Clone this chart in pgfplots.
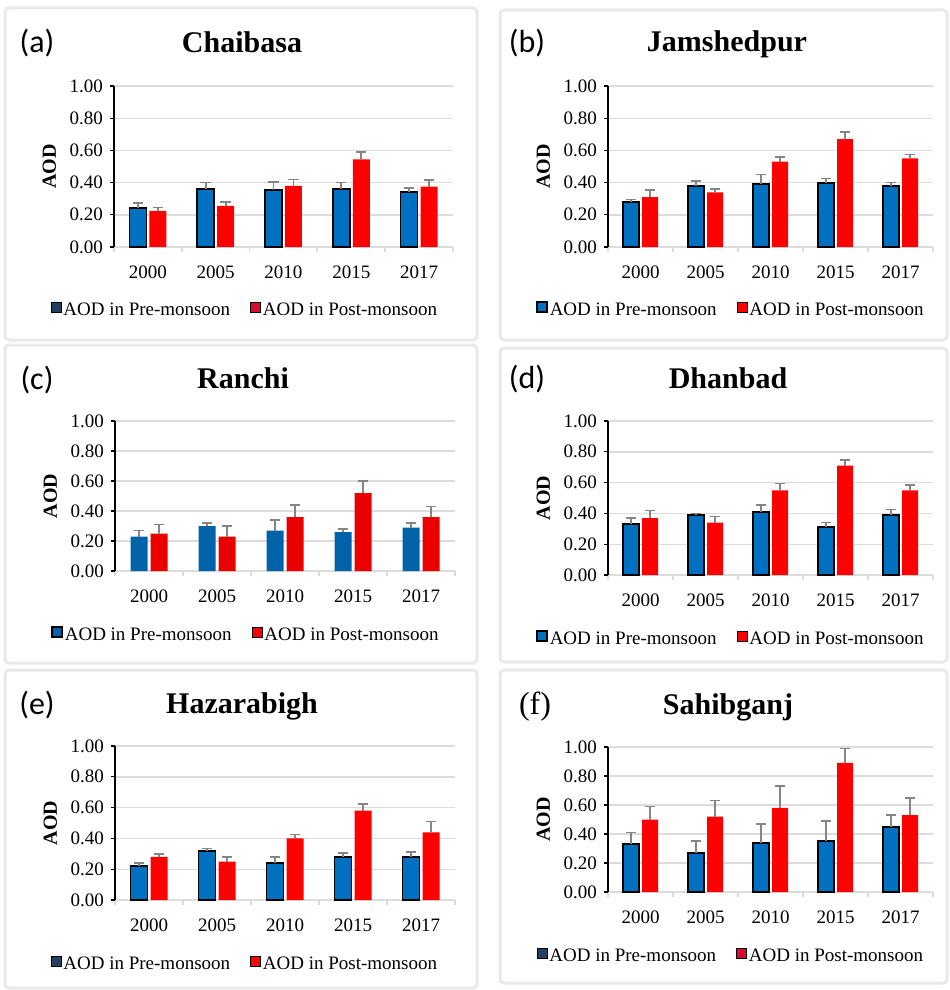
\documentclass[border=0pt]{standalone}
\usepackage{fontspec}
\setmainfont{Liberation Serif}
\newfontfamily\panelfont{Carlito}
\usepackage{pgfplots}
\usepackage{pgfplotstable}
\pgfplotsset{compat=1.18}

\definecolor{preblue}{HTML}{0070C0}
\definecolor{postred}{HTML}{FF0000}
\definecolor{errgray}{HTML}{858585}
\definecolor{gridgray}{HTML}{DCDCDC}
\definecolor{framegray}{HTML}{E9E9E9}
\definecolor{navy}{HTML}{243F60}
\definecolor{crimson}{HTML}{D2102E}

% columns: year index, pre-monsoon AOD, its error, post-monsoon AOD, its error
\pgfplotstableread{
x pre preerr post posterr
0 0.24 0.035 0.225 0.02
1 0.36 0.040 0.255 0.025
2 0.355 0.050 0.38 0.04
3 0.36 0.040 0.545 0.045
4 0.34 0.025 0.375 0.04
}\chaibasa
\pgfplotstableread{
x pre preerr post posterr
0 0.28 0.015 0.31 0.045
1 0.38 0.030 0.34 0.02
2 0.39 0.060 0.53 0.03
3 0.40 0.025 0.67 0.045
4 0.38 0.020 0.55 0.025
}\jamshedpur
\pgfplotstableread{
x pre preerr post posterr
0 0.23 0.040 0.25 0.06
1 0.30 0.020 0.23 0.07
2 0.27 0.070 0.36 0.08
3 0.26 0.020 0.52 0.08
4 0.29 0.030 0.36 0.07
}\ranchi
\pgfplotstableread{
x pre preerr post posterr
0 0.33 0.040 0.37 0.05
1 0.39 0.010 0.34 0.04
2 0.41 0.045 0.55 0.045
3 0.31 0.030 0.71 0.035
4 0.39 0.035 0.55 0.035
}\dhanbad
\pgfplotstableread{
x pre preerr post posterr
0 0.22 0.020 0.28 0.02
1 0.32 0.015 0.25 0.03
2 0.24 0.040 0.40 0.025
3 0.28 0.025 0.58 0.045
4 0.28 0.030 0.44 0.07
}\hazarabigh
\pgfplotstableread{
x pre preerr post posterr
0 0.33 0.08 0.50 0.09
1 0.27 0.08 0.52 0.11
2 0.34 0.13 0.58 0.15
3 0.35 0.14 0.89 0.10
4 0.45 0.08 0.53 0.12
}\sahibganj

\pgfplotsset{
  aodpanel/.style={
    scale only axis,
    anchor=south west,
    ybar, bar width=8.5pt,
    xmin=-0.5, xmax=4.5, ymin=0, ymax=1,
    xtick={0,1,2,3,4},
    xticklabels={2000,2005,2010,2015,2017},
    minor xtick={-0.5,0.5,1.5,2.5,3.5,4.5},
    ytick={0,0.2,0.4,0.6,0.8,1},
    axis x line*=bottom, axis y line*=left,
    x axis line style={gridgray, line width=0.9pt},
    y axis line style={black, line width=0.6pt},
    tick align=outside,
    major x tick style={draw=none},
    minor x tick style={gridgray, line width=0.9pt},
    minor tick length=2.5pt,
    major y tick style={black, line width=0.6pt},
    major tick length=2pt,
    ymajorgrids,
    major grid style={gridgray, line width=0.7pt},
    tick label style={font=\fontsize{9.5}{11}\selectfont},
    yticklabel style={/pgf/number format/fixed,
      /pgf/number format/fixed zerofill,
      /pgf/number format/precision=2,
      /pgf/number format/assume math mode=true},
    xticklabel style={yshift=-4pt},
    ylabel={AOD},
    ylabel style={font=\fontsize{10}{12}\selectfont\bfseries},
    legend columns=2,
    legend style={draw=none, fill=none, font=\fontsize{9.5}{11}\selectfont,
      anchor=center, inner sep=0pt,
      nodes={inner sep=1pt},
      /tikz/every even column/.append style={column sep=9pt}},
  },
  sqlegend/.style={legend image code/.code={\draw[##1] (0pt,-0.6pt) rectangle (5pt,4.4pt);}},
  upbars/.style={
    error bars/y dir=plus, error bars/y explicit,
    error bars/error bar style={errgray, line width=0.8pt},
    error bars/error mark options={errgray, rotate=90, mark size=2.6pt, line width=0.8pt}},
  prebar/.style={upbars, fill=preblue, draw=black, line width=0.9pt, bar shift=-5pt},
  postbar/.style={upbars, fill=postred, draw=none, bar shift=5pt},
}

\begin{document}
\begin{tikzpicture}
\useasboundingbox (0pt,0pt) rectangle (474.5pt,-495pt);
\fill[white] (0pt,0pt) rectangle (474.5pt,-495pt);

% panel frames, titles and letters (1 unit = half a point)
\begin{scope}[x=0.5pt, y=-0.5pt]
  \foreach \a/\b/\c/\d in {5/8/477/340, 500/10/947/340, 5/345/477/663,
                           500/348/947/662, 5/670/477/988, 500/670/947/983}
    \draw[framegray, line width=1.5pt, rounded corners=2pt] (\a,\b) rectangle (\c,\d);

  \node[font=\panelfont\fontsize{16}{18}\selectfont] at (37,43) {(a)};
  \node[font=\panelfont\fontsize{16}{18}\selectfont] at (527,43) {(b)};
  \node[font=\panelfont\fontsize{16}{18}\selectfont] at (37,380) {(c)};
  \node[font=\panelfont\fontsize{16}{18}\selectfont] at (527,379) {(d)};
  \node[font=\panelfont\fontsize{16}{18}\selectfont] at (37,705) {(e)};
  \node[font=\fontsize{16}{18}\selectfont] at (535,707) {(f)};

  \node[anchor=base, font=\fontsize{15}{18}\selectfont\bfseries] at (242,53) {Chaibasa};
  \node[anchor=base, font=\fontsize{15}{18}\selectfont\bfseries] at (727,52) {Jamshedpur};
  \node[anchor=base, font=\fontsize{15}{18}\selectfont\bfseries] at (243,388) {Ranchi};
  \node[anchor=base, font=\fontsize{15}{18}\selectfont\bfseries] at (728,388) {Dhanbad};
  \node[anchor=base, font=\fontsize{15}{18}\selectfont\bfseries] at (242,713) {Hazarabigh};
  \node[anchor=base, font=\fontsize{15}{18}\selectfont\bfseries] at (728,714) {Sahibganj};
\end{scope}

% (a) Chaibasa
\begin{axis}[aodpanel, at={(57pt,-123.5pt)}, width=169.5pt, height=80.5pt,
  legend style={at={(0.386,-0.398)}}]
  \addplot[prebar, forget plot] table[x=x, y=pre, y error=preerr] {\chaibasa};
  \addplot[postbar, forget plot] table[x=x, y=post, y error=posterr] {\chaibasa};
  \addlegendimage{sqlegend, fill=navy, draw=none}
  \addlegendentry{AOD in Pre-monsoon}
  \addlegendimage{sqlegend, fill=crimson, draw=none}
  \addlegendentry{AOD in Post-monsoon}
\end{axis}

% (b) Jamshedpur
\begin{axis}[aodpanel, at={(304pt,-123.5pt)}, width=162.5pt, height=80.5pt,
  bar width=8pt, legend style={at={(0.378,-0.398)}}]
  \addplot[prebar, bar shift=-4.75pt, forget plot] table[x=x, y=pre, y error=preerr] {\jamshedpur};
  \addplot[postbar, bar shift=4.75pt, forget plot] table[x=x, y=post, y error=posterr] {\jamshedpur};
  \addlegendimage{sqlegend, fill=preblue, draw=black, line width=0.8pt}
  \addlegendentry{AOD in Pre-monsoon}
  \addlegendimage{sqlegend, fill=postred, draw=none}
  \addlegendentry{AOD in Post-monsoon}
\end{axis}

% (c) Ranchi
\begin{axis}[aodpanel, at={(57.5pt,-285.5pt)}, width=170pt, height=75pt,
  legend style={at={(0.385,-0.433)}}]
  \addplot[postbar, fill=preblue!88!black, bar shift=-5pt, forget plot] table[x=x, y=pre, y error=preerr] {\ranchi};
  \addplot[postbar, fill=postred!92!black, forget plot] table[x=x, y=post, y error=posterr] {\ranchi};
  \addlegendimage{sqlegend, fill=preblue!88!black, draw=black, line width=0.8pt}
  \addlegendentry{AOD in Pre-monsoon}
  \addlegendimage{sqlegend, fill=postred, draw=none}
  \addlegendentry{AOD in Post-monsoon}
\end{axis}

% (d) Dhanbad
\begin{axis}[aodpanel, at={(304pt,-287.5pt)}, width=162.5pt, height=77pt,
  bar width=8pt, legend style={at={(0.378,-0.422)}}]
  \addplot[prebar, bar shift=-4.75pt, forget plot] table[x=x, y=pre, y error=preerr] {\dhanbad};
  \addplot[postbar, bar shift=4.75pt, forget plot] table[x=x, y=post, y error=posterr] {\dhanbad};
  \addlegendimage{sqlegend, fill=preblue, draw=black, line width=0.8pt}
  \addlegendentry{AOD in Pre-monsoon}
  \addlegendimage{sqlegend, fill=postred, draw=none}
  \addlegendentry{AOD in Post-monsoon}
\end{axis}

% (e) Hazarabigh
\begin{axis}[aodpanel, at={(57.5pt,-450pt)}, width=170pt, height=77pt,
  legend style={at={(0.382,-0.422)}}]
  \addplot[prebar, forget plot] table[x=x, y=pre, y error=preerr] {\hazarabigh};
  \addplot[postbar, forget plot] table[x=x, y=post, y error=posterr] {\hazarabigh};
  \addlegendimage{sqlegend, fill=navy, draw=none}
  \addlegendentry{AOD in Pre-monsoon}
  \addlegendimage{sqlegend, fill=postred, draw=none}
  \addlegendentry{AOD in Post-monsoon}
\end{axis}

% (f) Sahibganj
\begin{axis}[aodpanel, at={(304pt,-446pt)}, width=162.5pt, height=72.5pt,
  bar width=8pt, legend style={at={(0.378,-0.448)}}]
  \addplot[prebar, bar shift=-4.75pt, forget plot] table[x=x, y=pre, y error=preerr] {\sahibganj};
  \addplot[postbar, bar shift=4.75pt, forget plot] table[x=x, y=post, y error=posterr] {\sahibganj};
  \addlegendimage{sqlegend, fill=navy, draw=none}
  \addlegendentry{AOD in Pre-monsoon}
  \addlegendimage{sqlegend, fill=crimson, draw=none}
  \addlegendentry{AOD in Post-monsoon}
\end{axis}
\end{tikzpicture}
\end{document}
